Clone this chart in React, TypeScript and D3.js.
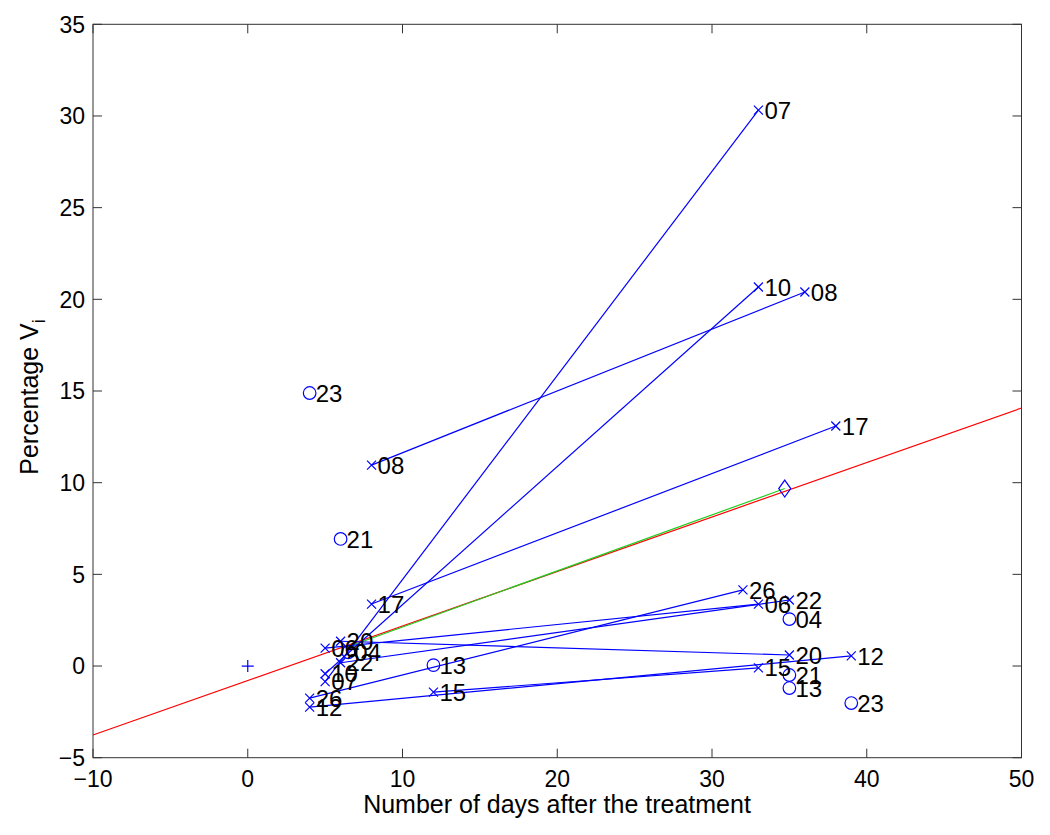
import React from "react";
import * as d3 from "d3";

// Connected subjects (cross markers): start measurement -> end measurement
const crossIds = ["06", "07", "08", "10", "12", "15", "17", "20", "22", "26"];
const crossStartX = [5, 5, 8, 5, 4, 12, 8, 6, 6, 4];
const crossStartY = [0.98, -0.85, 10.96, -0.42, -2.24, -1.42, 3.38, 1.35, 0.18, -1.75];
const crossEndX = [33, 33, 36, 33, 39, 33, 38, 35, 35, 32];
const crossEndY = [3.38, 30.32, 20.4, 20.67, 0.55, -0.1, 13.09, 0.6, 3.6, 4.15];

// Unconnected subjects (circle markers)
const circleIds = ["04", "13", "21", "23"];
const circleStartX = [6.5, 12, 6, 4];
const circleStartY = [0.75, 0.05, 6.93, 14.89];
const circleEndX = [35, 35, 35, 39];
const circleEndY = [2.56, -1.2, -0.49, -2.02];

// Mean points and fits
const originPoint = [0, 0];
const meanStart = [6.3, 1.0];
const meanEnd = [34.7, 9.68];
const fitLine = [
  [-10, -3.76],
  [50, 14.07],
];

const xTicks = [-10, 0, 10, 20, 30, 40, 50];
const yTicks = [-5, 0, 5, 10, 15, 20, 25, 30, 35];

const FONT = "'Liberation Sans', Arial, Helvetica, sans-serif";
const BLUE = "#0000ff";

export default function App() {
  const left = 93,
    right = 1021.5,
    top = 24.3,
    bottom = 757.7;
  const x = d3.scaleLinear().domain([-10, 50]).range([left, right]);
  const y = d3.scaleLinear().domain([-5, 35]).range([bottom, top]);
  const line = d3
    .line<number[]>()
    .x((d) => x(d[0]))
    .y((d) => y(d[1]));
  const tl = 9;
  const fmt = (v: number) => (v < 0 ? "\u2212" + Math.abs(v) : String(v));

  const cross = (cx: number, cy: number, k: string) => (
    <path
      key={k}
      d={`M${cx - 4.5},${cy - 4.5}L${cx + 4.5},${cy + 4.5}M${cx - 4.5},${cy + 4.5}L${cx + 4.5},${cy - 4.5}`}
      stroke={BLUE}
      strokeWidth={1.2}
      fill="none"
    />
  );
  const circ = (cx: number, cy: number, k: string) => (
    <circle key={k} cx={cx} cy={cy} r={6.3} stroke={BLUE} strokeWidth={1.2} fill="none" />
  );
  const label = (cx: number, cy: number, t: string, k: string) => (
    <text key={k} x={cx + 6} y={cy} dy="0.36em" fontSize={24} fontFamily={FONT} fill="#000">
      {t}
    </text>
  );

  return (
    <svg
      width={1050}
      height={835}
      style={{ position: "absolute", left: 0, top: 0, background: "#fff" }}
    >
      <rect x={0} y={0} width={1050} height={835} fill="#fff" />
      {/* axes box */}
      <rect x={left} y={top} width={right - left} height={bottom - top} fill="none" stroke="#333" strokeWidth={1} />
      {xTicks.map((t) => (
        <g key={"xt" + t}>
          <line x1={x(t)} x2={x(t)} y1={bottom} y2={bottom - tl} stroke="#333" />
          <line x1={x(t)} x2={x(t)} y1={top} y2={top + tl} stroke="#333" />
          <text x={x(t)} y={787} textAnchor="middle" fontSize={23} fontFamily={FONT} fill="#000">
            {fmt(t)}
          </text>
        </g>
      ))}
      {yTicks.map((t) => (
        <g key={"yt" + t}>
          <line x1={left} x2={left + tl} y1={y(t)} y2={y(t)} stroke="#333" />
          <line x1={right} x2={right - tl} y1={y(t)} y2={y(t)} stroke="#333" />
          <text x={85} y={y(t)} dy="0.36em" textAnchor="end" fontSize={23} fontFamily={FONT} fill="#000">
            {fmt(t)}
          </text>
        </g>
      ))}
      <text x={557} y={813} textAnchor="middle" fontSize={25} fontFamily={FONT} fill="#000">
        Number of days after the treatment
      </text>
      <text
        transform="translate(38,397) rotate(-90)"
        textAnchor="middle"
        fontSize={25}
        fontFamily={FONT}
        fill="#000"
      >
        Percentage V
        <tspan fontSize={18} dy={7}>
          i
        </tspan>
      </text>

      {/* fit line */}
      <path d={line(fitLine) || ""} stroke="#ff0000" strokeWidth={1.2} fill="none" />
      {/* mean trajectory */}
      <path d={line([meanStart, meanEnd]) || ""} stroke="#22cc22" strokeWidth={1.2} fill="none" />

      {/* subject trajectories */}
      {crossIds.map((id, i) => (
        <path
          key={"l" + id}
          d={line([
            [crossStartX[i], crossStartY[i]],
            [crossEndX[i], crossEndY[i]],
          ]) || ""}
          stroke={BLUE}
          strokeWidth={1.2}
          fill="none"
        />
      ))}
      {crossIds.map((id, i) => cross(x(crossStartX[i]), y(crossStartY[i]), "cs" + id))}
      {crossIds.map((id, i) => cross(x(crossEndX[i]), y(crossEndY[i]), "ce" + id))}
      {circleIds.map((id, i) => circ(x(circleStartX[i]), y(circleStartY[i]), "os" + id))}
      {circleIds.map((id, i) => circ(x(circleEndX[i]), y(circleEndY[i]), "oe" + id))}

      {/* origin plus */}
      <path
        d={`M${x(originPoint[0]) - 6},${y(originPoint[1])}H${x(originPoint[0]) + 6}M${x(originPoint[0])},${y(originPoint[1]) - 6}V${y(originPoint[1]) + 6}`}
        stroke={BLUE}
        strokeWidth={1.2}
      />
      {/* mean end diamond */}
      <path
        d={`M${x(meanEnd[0])},${y(meanEnd[1]) - 8.5}L${x(meanEnd[0]) + 6},${y(meanEnd[1])}L${x(meanEnd[0])},${y(meanEnd[1]) + 8.5}L${x(meanEnd[0]) - 6},${y(meanEnd[1])}Z`}
        stroke={BLUE}
        strokeWidth={1.2}
        fill="none"
      />

      {/* labels */}
      {crossIds.map((id, i) => label(x(crossStartX[i]), y(crossStartY[i]), id, "ts" + id))}
      {crossIds.map((id, i) => label(x(crossEndX[i]), y(crossEndY[i]), id, "te" + id))}
      {circleIds.map((id, i) => label(x(circleStartX[i]), y(circleStartY[i]), id, "us" + id))}
      {circleIds.map((id, i) => label(x(circleEndX[i]), y(circleEndY[i]), id, "ue" + id))}
    </svg>
  );
}
